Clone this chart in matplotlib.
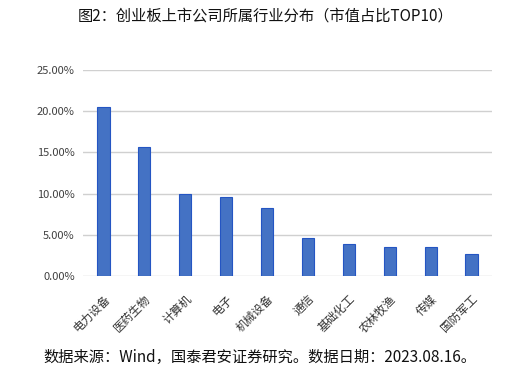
import matplotlib
matplotlib.use("Agg")
import matplotlib.pyplot as plt
from matplotlib.ticker import FuncFormatter

plt.rcParams['font.family'] = ['Noto Sans CJK SC', 'DejaVu Sans']

categories = ["电力设备", "医药生物", "计算机", "电子", "机械设备", "通信", "基础化工", "农林牧渔", "传媒", "国防军工"]
values = [20.48, 15.70, 10.00, 9.56, 8.23, 4.63, 3.94, 3.58, 3.58, 2.72]
yticks = [0, 5, 10, 15, 20, 25]
title = "图2：创业板上市公司所属行业分布（市值占比TOP10）"
source = "数据来源：Wind，国泰君安证券研究。数据日期：2023.08.16。"

fig = plt.figure(figsize=(5.31, 3.84), dpi=100)
ax = fig.add_axes([83/531, 1-276/384, (492-83)/531, (276-70)/384])

x = list(range(len(categories)))
ax.bar(x, values, width=0.30, color="#4472C4", edgecolor="#2455C3", linewidth=0.8, zorder=3)
ax.set_xlim(-0.5, len(categories)-0.5)
ax.set_ylim(0, 25)
ax.set_yticks(yticks)
ax.yaxis.set_major_formatter(FuncFormatter(lambda v, p: f"{v:.2f}%"))
ax.grid(axis='y', color="#d0d0d0", linewidth=1.0, zorder=0)
for s in ax.spines.values():
    s.set_visible(False)
ax.tick_params(axis='both', length=0)
ax.tick_params(axis='y', labelsize=8, labelcolor="#404040", pad=6)
ax.set_xticks(x)
ax.set_xticklabels(categories, rotation=45, ha='right', va='top', rotation_mode='anchor',
                   fontsize=8.4, color="#333333")
ax.tick_params(axis='x', pad=12)

fig.text(0.5, 1-16/384, title, ha='center', va='center', fontsize=11, color="#111111")
fig.text(43/531, 1-357/384, source, ha='left', va='center', fontsize=11, color="#111111")

fig.savefig("out.png", dpi=100)
